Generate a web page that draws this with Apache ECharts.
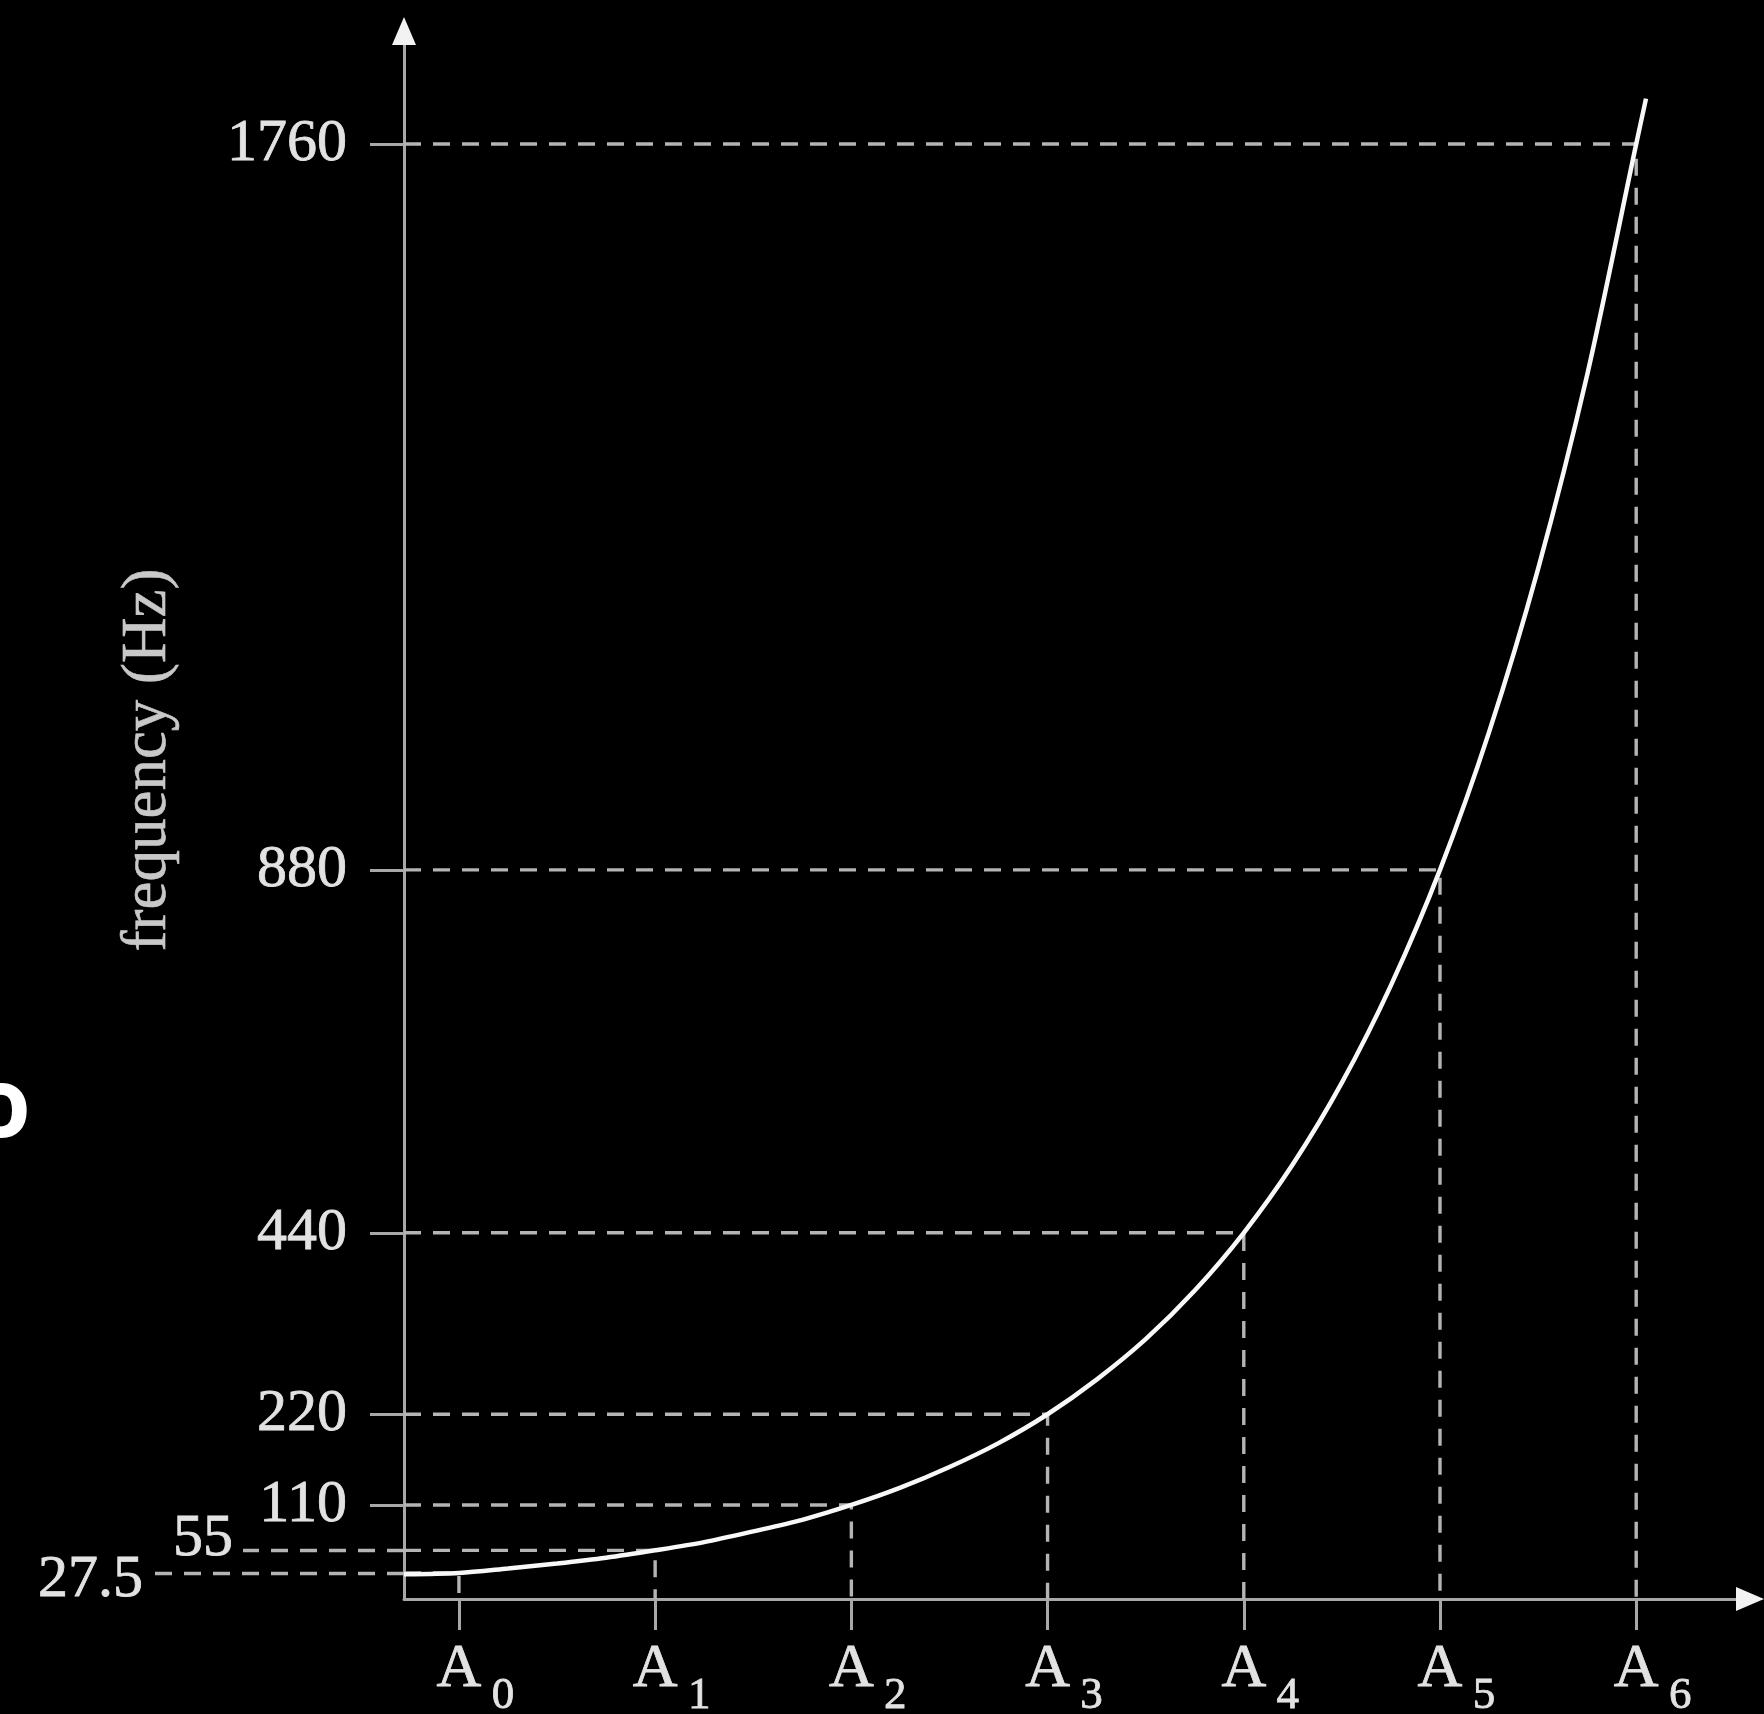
<!DOCTYPE html>
<html>
<head>
<meta charset="utf-8">
<script src="https://cdn.jsdelivr.net/npm/echarts@6/dist/echarts.min.js"></script>
<style>
  html, body { margin: 0; padding: 0; background: #000; }
  #chart { width: 1764px; height: 1714px; }
</style>
</head>
<body>
<div id="chart"></div>
<script>
// Octave index of each A on the keyboard and its frequency in Hz
const octaves = [0, 1, 2, 3, 4, 5, 6];
const noteLetter = 'A';
const noteHz = [27.5, 55, 110, 220, 440, 880, 1760];

// Points along the frequency curve (x in octaves from A0, y in Hz)
const curveX  = [-0.28, 0, 0.25, 0.5, 0.75, 1, 1.25, 1.5, 1.75, 2, 2.25, 2.5, 2.75, 3, 3.25, 3.5, 3.75,
                 4, 4.25, 4.5, 4.75, 5, 5.25, 5.5, 5.75, 6, 6.05];
const curveHz = [26, 27.5, 33, 39, 46, 55, 65, 78, 92, 110, 131, 156, 185, 220, 262, 311, 370,
                 440, 523, 622, 740, 880, 1047, 1245, 1480, 1760, 1815];

// Frequency tick labels on the vertical axis
const yTicksMain = [110, 220, 440, 880, 1760];
const yTickRaised = [55];
const yTickLowered = [27.5];
const yTitle = 'frequency (Hz)';

// Axis extents
const X_MIN = -0.28, X_MAX = 6.58;
const Y_MIN = -4, Y_MAX = 1897;

const SERIF = '"Liberation Serif", "DejaVu Serif", serif';
const AXIS = '#a8a8a8';
const DASH = '#b4b4b4';
const TEXT = '#e2e2e2';
const DASH_PATTERN = [17, 12];
// a thin outline in the text colour gives the labels a slightly heavier stroke
const heavy = { textBorderColor: TEXT, textBorderWidth: 0.8 };

const chart = echarts.init(document.getElementById('chart'), null, { renderer: 'canvas' });

const xCommon = {
  type: 'value', min: X_MIN, max: X_MAX, position: 'bottom',
  splitLine: { show: false }
};
const yCommon = {
  type: 'value', min: Y_MIN, max: Y_MAX, position: 'left',
  splitLine: { show: false }
};

// Dashed guides: from the vertical axis across to each note, then down to the horizontal axis
const guideSeries = octaves.map((oct, i) => ({
  type: 'line',
  silent: true,
  symbol: 'none',
  z: 2,
  lineStyle: { color: DASH, width: 3.4, type: DASH_PATTERN },
  data: [[X_MIN, noteHz[i]], [oct, noteHz[i]], [oct, Y_MIN]]
}));

const option = {
  backgroundColor: '#000',
  animation: false,
  grid: { left: 404, right: 14, top: 31, bottom: 115, containLabel: false, outerBoundsMode: 'none' },
  xAxis: [
    {
      // note letters under each tick
      ...xCommon,
      axisLine: { show: true, onZero: false, lineStyle: { color: AXIS, width: 3 } },
      axisTick: { show: true, customValues: octaves, length: 31, lineStyle: { color: AXIS, width: 3 } },
      axisLabel: {
        show: true, customValues: octaves, margin: 40,
        formatter: () => noteLetter,
        fontFamily: SERIF, fontSize: 62, color: TEXT, lineHeight: 62, ...heavy
      }
    },
    {
      // arrow head of the horizontal axis
      ...xCommon,
      axisTick: { show: false }, axisLabel: { show: false },
      axisLine: { show: true, onZero: false, symbol: ['none', 'triangle'], symbolSize: [24, 28],
                  lineStyle: { color: '#f2f2f2', width: 0 } }
    },
    {
      // octave subscripts, set low and to the right of each letter
      ...xCommon,
      axisLine: { show: false, onZero: false }, axisTick: { show: false },
      axisLabel: {
        show: true, customValues: octaves, margin: 75,
        formatter: v => `{s|${v}}`,
        rich: { s: { fontFamily: SERIF, fontSize: 45, color: TEXT, lineHeight: 45, padding: [0, 0, 0, 88], ...heavy } }
      }
    }
  ],
  yAxis: [
    {
      ...yCommon,
      name: yTitle,
      nameLocation: 'middle',
      nameRotate: 90,
      nameGap: 224,
      nameTextStyle: { fontFamily: SERIF, fontSize: 63, color: '#c8c8c8', padding: [0, 0, 0, 110],
                       textBorderColor: '#c8c8c8', textBorderWidth: 0.6 },
      axisLine: { show: true, onZero: false, lineStyle: { color: AXIS, width: 3 } },
      axisTick: { show: true, customValues: yTicksMain, length: 34, lineStyle: { color: AXIS, width: 3 } },
      axisLabel: { show: true, customValues: yTicksMain, margin: 57, fontFamily: SERIF, fontSize: 60, color: TEXT,
                   formatter: v => String(v), ...heavy }
    },
    {
      ...yCommon,
      axisLine: { show: true, onZero: false, symbol: ['none', 'triangle'], symbolSize: [24, 28],
                  lineStyle: { color: '#f2f2f2', width: 0 } },
      axisTick: { show: true, customValues: yTickRaised, length: 161, lineStyle: { color: DASH, width: 3.4, type: DASH_PATTERN } },
      axisLabel: {
        show: true, customValues: yTickRaised, margin: 171,
        formatter: v => `{t|${v}}`,
        rich: { t: { fontFamily: SERIF, fontSize: 60, color: TEXT, padding: [0, 0, 22, 0], ...heavy } }
      }
    },
    {
      ...yCommon,
      axisLine: { show: false, onZero: false },
      axisTick: { show: true, customValues: yTickLowered, length: 252, lineStyle: { color: DASH, width: 3.4, type: DASH_PATTERN } },
      axisLabel: {
        show: true, customValues: yTickLowered, margin: 261,
        formatter: v => `{t|${v}}`,
        rich: { t: { fontFamily: SERIF, fontSize: 60, color: TEXT, padding: [14, 0, 0, 0], ...heavy } }
      }
    }
  ],
  graphic: [
    {
      type: 'text', x: 31, y: 1110, silent: true,
      style: { text: 'o', font: '700 96px "Open Sans", "Noto Sans", sans-serif', fill: '#ffffff',
               textAlign: 'right', textVerticalAlign: 'middle' }
    }
  ],
  series: [
    ...guideSeries,
    {
      type: 'line',
      name: 'frequency',
      silent: true,
      symbol: 'none',
      smooth: 0.3,
      z: 3,
      lineStyle: { color: '#f8f8f8', width: 4.5 },
      data: curveX.map((x, i) => [x, curveHz[i]])
    }
  ]
};

chart.setOption(option);
</script>
</body>
</html>
